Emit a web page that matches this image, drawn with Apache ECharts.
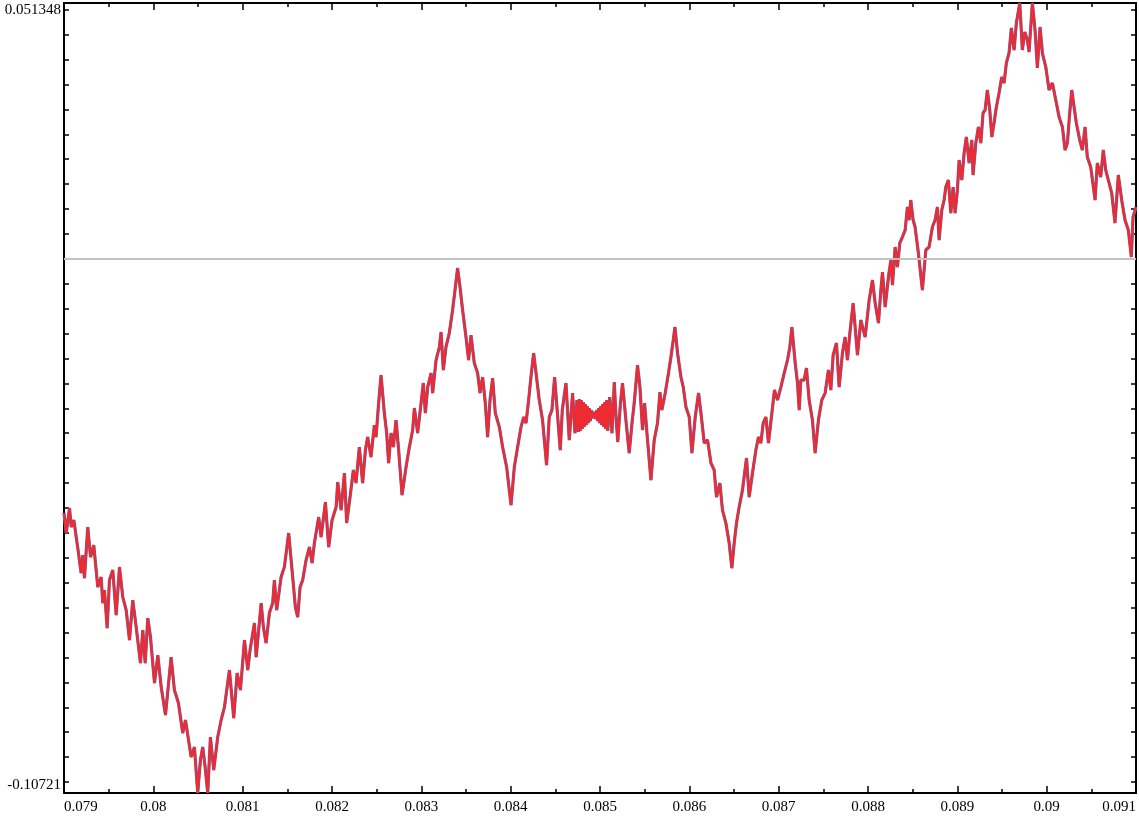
<!DOCTYPE html>
<html><head><meta charset="utf-8">
<script src="https://cdn.jsdelivr.net/npm/echarts@6/dist/echarts.min.js"></script>
<style>html,body{margin:0;padding:0;background:#fff}#chart{width:1139px;height:818px}</style>
</head><body><div id="chart"></div>
<script>
const xValues = [
0.079000,0.079025,0.079062,0.079081,0.079110,0.079162,0.079192,0.079210,0.079229,0.079266,
0.079297,0.079333,0.079378,0.079416,0.079434,0.079453,0.079483,0.079509,0.079546,0.079584,
0.079621,0.079658,0.079696,0.079733,0.079770,0.079808,0.079856,0.079882,0.079909,0.079938,
0.079968,0.080013,0.080050,0.080088,0.080136,0.080199,0.080236,0.080281,0.080329,0.080360,
0.080423,0.080460,0.080497,0.080527,0.080553,0.080580,0.080609,0.080639,0.080676,0.080721,
0.080759,0.080796,0.080852,0.080900,0.080938,0.080975,0.081020,0.081057,0.081083,0.081132,
0.081151,0.081207,0.081232,0.081262,0.081299,0.081336,0.081355,0.081381,0.081430,0.081467,
0.081515,0.081560,0.081590,0.081616,0.081643,0.081672,0.081710,0.081747,0.081777,0.081803,
0.081851,0.081878,0.081926,0.081963,0.082001,0.082046,0.082064,0.082102,0.082139,0.082164,
0.082202,0.082239,0.082269,0.082306,0.082343,0.082374,0.082399,0.082437,0.082474,0.082493,
0.082522,0.082549,0.082586,0.082612,0.082634,0.082661,0.082687,0.082717,0.082746,0.082784,
0.082829,0.082866,0.082903,0.082922,0.082959,0.082997,0.083022,0.083045,0.083071,0.083109,
0.083127,0.083165,0.083202,0.083221,0.083246,0.083276,0.083313,0.083350,0.083381,0.083406,
0.083433,0.083462,0.083500,0.083529,0.083556,0.083593,0.083630,0.083657,0.083686,0.083716,
0.083742,0.083769,0.083798,0.083828,0.083873,0.083910,0.083955,0.084004,0.084041,0.084078,
0.084116,0.084145,0.084172,0.084201,0.084227,0.084257,0.084284,0.084320,0.084357,0.084402,
0.084432,0.084462,0.084492,0.084518,0.084555,0.084578,0.084619,0.084656,0.084693,0.084720,
0.084742,
0.084757,0.084768,0.084779,0.084790,0.084801,0.084813,0.084824,0.084835,0.084846,0.084857,
0.084869,0.084880,0.084891,0.084902,0.084913,0.084928,0.084941,0.084952,0.084964,0.084975,
0.084986,0.084997,0.085008,0.085019,0.085031,0.085042,0.085053,0.085064,0.085075,0.085087,
0.085109,0.085134,0.085160,0.085176,0.085199,0.085227,0.085252,0.085290,0.085327,0.085358,
0.085383,0.085420,0.085447,0.085476,0.085499,0.085532,0.085570,0.085607,0.085644,0.085671,
0.085693,0.085730,0.085767,0.085794,0.085820,0.085839,0.085868,0.085906,0.085932,0.085962,
0.085999,0.086029,0.086066,0.086103,0.086130,0.086167,0.086204,0.086242,0.086278,0.086304,
0.086342,0.086371,0.086409,0.086446,0.086476,0.086502,0.086528,0.086558,0.086595,0.086640,
0.086670,0.086707,0.086745,0.086774,0.086801,0.086827,0.086857,0.086886,0.086924,0.086953,
0.086987,0.087025,0.087062,0.087099,0.087125,0.087148,0.087185,0.087211,0.087230,0.087248,
0.087285,0.087311,0.087341,0.087378,0.087408,0.087445,0.087483,0.087520,0.087557,0.087584,
0.087610,0.087647,0.087677,0.087714,0.087744,0.087770,0.087797,0.087834,0.087882,0.087920,
0.087968,0.088013,0.088050,0.088080,0.088117,0.088144,0.088162,0.088192,0.088229,0.088256,
0.088274,0.088304,0.088329,0.088356,0.088385,0.088416,0.088441,0.088460,0.088479,0.088505,
0.088527,0.088564,0.088609,0.088647,0.088684,0.088721,0.088751,0.088777,0.088796,0.088826,
0.088852,0.088871,0.088900,0.088927,0.088953,0.088975,0.089001,0.089020,0.089050,0.089076,
0.089101,0.089132,0.089162,0.089176,0.089207,0.089236,0.089263,0.089288,0.089311,0.089336,
0.089363,0.089386,0.089411,0.089437,0.089467,0.089497,0.089523,0.089549,0.089579,0.089605,
0.089635,0.089661,0.089699,0.089728,0.089755,0.089784,0.089803,0.089840,0.089870,0.089896,
0.089926,0.089952,0.089990,0.090027,0.090064,0.090102,0.090139,0.090176,0.090206,0.090232,
0.090258,0.090281,0.090307,0.090332,0.090370,0.090399,0.090430,0.090455,0.090493,0.090542,
0.090567,0.090605,0.090634,0.090661,0.090690,0.090728,0.090765,0.090802,0.090840,0.090877,
0.090914,0.090948,0.090967,0.091000
];
const yValues = [
-0.05102,-0.05504,-0.05002,-0.05383,-0.05243,-0.05905,-0.06307,-0.05945,-0.06407,-0.05383,
-0.05986,-0.05745,-0.06588,-0.06387,-0.06909,-0.06648,-0.07411,-0.06447,-0.06246,-0.07150,
-0.06186,-0.06788,-0.07049,-0.07651,-0.06849,-0.07391,-0.08113,-0.07451,-0.08113,-0.07210,
-0.07591,-0.08515,-0.07953,-0.08595,-0.09157,-0.07993,-0.08655,-0.08916,-0.09518,-0.09257,
-0.10000,-0.09799,-0.10720,-0.10060,-0.09799,-0.10201,-0.10720,-0.09598,-0.10261,-0.09598,
-0.09257,-0.08996,-0.08254,-0.09217,-0.08314,-0.08655,-0.07651,-0.08254,-0.07852,-0.07310,
-0.07993,-0.06909,-0.07391,-0.07712,-0.07110,-0.06909,-0.06447,-0.07049,-0.06387,-0.06186,
-0.05504,-0.06387,-0.06989,-0.07190,-0.06588,-0.06447,-0.06046,-0.05785,-0.06106,-0.05704,
-0.05183,-0.05584,-0.04882,-0.05785,-0.05243,-0.04982,-0.04480,-0.05042,-0.04299,-0.05303,
-0.04781,-0.04239,-0.04500,-0.03778,-0.04500,-0.03838,-0.03577,-0.03978,-0.03336,-0.03577,
-0.02894,-0.02332,-0.03095,-0.03497,-0.04099,-0.03497,-0.03778,-0.03236,-0.03838,-0.04741,
-0.04179,-0.03778,-0.03436,-0.02995,-0.03497,-0.02894,-0.02493,-0.03095,-0.02573,-0.02292,
-0.02694,-0.02031,-0.01770,-0.01469,-0.02232,-0.01770,-0.01489,-0.01028,-0.00566,-0.00185,
-0.00566,-0.01028,-0.01570,-0.02031,-0.01530,-0.02092,-0.02292,-0.02694,-0.02373,-0.02894,
-0.03577,-0.02834,-0.02393,-0.03095,-0.03376,-0.03778,-0.04179,-0.04942,-0.04179,-0.03778,
-0.03376,-0.03175,-0.03296,-0.02834,-0.02373,-0.01891,-0.02292,-0.02834,-0.03236,-0.04139,
-0.03175,-0.03035,-0.02373,-0.02975,-0.03838,-0.03035,-0.02493,-0.03637,-0.02694,-0.03497,
-0.02834,
-0.03476,-0.02814,-0.03456,-0.02834,-0.03416,-0.02874,-0.03376,-0.02914,-0.03336,-0.02955,
-0.03296,-0.02995,-0.03256,-0.03035,-0.03196,-0.03135,-0.03075,-0.03216,-0.03035,-0.03256,
-0.02995,-0.03296,-0.02955,-0.03336,-0.02914,-0.03376,-0.02874,-0.03416,-0.02834,-0.03456,
-0.02774,-0.03497,-0.02473,-0.03075,-0.03677,-0.02935,-0.02493,-0.03236,-0.03898,-0.03296,
-0.02894,-0.02132,-0.02573,-0.03436,-0.02894,-0.03637,-0.04440,-0.03637,-0.03296,-0.02674,
-0.03035,-0.02694,-0.02292,-0.01971,-0.01630,-0.01369,-0.01891,-0.02373,-0.02573,-0.02975,
-0.03175,-0.03898,-0.03175,-0.02694,-0.03095,-0.03697,-0.03637,-0.04099,-0.04239,-0.04781,
-0.04500,-0.05042,-0.05303,-0.05704,-0.06206,-0.05704,-0.05303,-0.04982,-0.04641,-0.03998,
-0.04781,-0.04299,-0.03838,-0.03577,-0.03697,-0.03296,-0.03175,-0.03697,-0.03095,-0.02633,
-0.02834,-0.02573,-0.02292,-0.02031,-0.01770,-0.01369,-0.02092,-0.02493,-0.03035,-0.02433,
-0.02433,-0.02192,-0.02834,-0.03236,-0.03898,-0.03236,-0.02834,-0.02694,-0.02232,-0.02633,
-0.01931,-0.01690,-0.02573,-0.01891,-0.01570,-0.02031,-0.01489,-0.00887,-0.01931,-0.01228,
-0.01570,-0.00827,-0.00426,-0.00887,-0.01289,-0.00626,-0.00265,-0.00967,-0.00365,-0.00024,
-0.00526,0.00237,-0.00165,0.00317,0.00438,0.00578,0.01040,0.00779,0.01180,0.00779,
0.00638,0.00116,-0.00626,0.00177,0.00237,0.00638,0.00779,0.01040,0.00377,0.00980,
0.01180,0.01441,0.01582,0.00919,0.01441,0.00919,0.01381,0.01983,0.01582,0.02124,
0.02445,0.01923,0.02385,0.01682,0.02324,0.02646,0.02324,0.02927,0.02987,0.03388,
0.02987,0.02445,0.02726,0.03047,0.03328,0.03649,0.03529,0.03930,0.04131,0.04633,
0.04191,0.04733,0.05135,0.04191,0.04552,0.04392,0.04151,0.05135,0.04592,0.03830,
0.04653,0.04131,0.03850,0.03388,0.03529,0.03187,0.02846,0.02646,0.02184,0.02324,
0.02927,0.03388,0.03047,0.02726,0.02385,0.02184,0.02646,0.02043,0.01843,0.01180,
0.01923,0.01642,0.02184,0.01782,0.01582,0.01321,0.00719,0.01682,0.01180,0.00779,
0.00578,0.00036,0.00839,0.01040
];
const xMin = 0.079, xMax = 0.091, xStep = 0.001;
const yMin = -0.10721, yMax = 0.051348;
const yLabelValues = [-0.10721, 0.051348];
const yTickValues = [-0.105,-0.1,-0.095,-0.09,-0.085,-0.08,-0.075,-0.07,-0.065,-0.06,-0.055,-0.05,
  -0.045,-0.04,-0.035,-0.03,-0.025,-0.02,-0.015,-0.01,-0.005,0,0.005,0.01,0.015,0.02,0.025,0.03,
  0.035,0.04,0.045,0.05];
const zeroLevel = 0;

const pts = xValues.map((x, i) => [x, yValues[i]]);
const font = {fontFamily: 'Liberation Serif', fontSize: 15, color: '#000'};
const axisLine = {show: true, onZero: false, lineStyle: {color: '#000', width: 2}};

const chart = echarts.init(document.getElementById('chart'), null, {renderer: 'canvas'});
chart.setOption({
  animation: false,
  backgroundColor: '#fff',
  grid: {left: 64, right: 2, top: 3, bottom: 25, containLabel: false},
  xAxis: [{
    type: 'value', min: xMin, max: xMax, interval: xStep, position: 'bottom',
    axisLine: axisLine,
    axisTick: {show: true, inside: true, length: 7, lineStyle: {color: '#000', width: 1.5}},
    minorTick: {show: true, splitNumber: 2, length: 4, lineStyle: {color: '#000', width: 1.5}},
    splitLine: {show: false},
    axisLabel: Object.assign({margin: 7, alignMinLabel: 'left', alignMaxLabel: 'right',
      formatter: v => String(parseFloat(v.toFixed(4)))}, font)
  }, {
    type: 'value', min: xMin, max: xMax, interval: xStep, position: 'top',
    axisLine: axisLine,
    axisTick: {show: true, inside: true, length: 7, lineStyle: {color: '#000', width: 1.5}},
    minorTick: {show: true, splitNumber: 2, length: 4, lineStyle: {color: '#000', width: 1.5}},
    splitLine: {show: false}, axisLabel: {show: false}
  }],
  yAxis: [{
    type: 'value', min: yMin, max: yMax, position: 'left',
    axisLine: axisLine,
    axisTick: {show: true, inside: true, length: 5, customValues: yTickValues, lineStyle: {color: '#000', width: 1.5}},
    splitLine: {show: false},
    axisLabel: Object.assign({margin: 3, customValues: yLabelValues,
      verticalAlignMinLabel: 'bottom', verticalAlignMaxLabel: 'top',
      formatter: v => String(v)}, font)
  }, {
    type: 'value', min: yMin, max: yMax, position: 'right',
    axisLine: axisLine,
    axisTick: {show: true, inside: true, length: 5, customValues: yTickValues, lineStyle: {color: '#000', width: 1.5}},
    splitLine: {show: false}, axisLabel: {show: false}
  }],
  series: [{
    type: 'line', data: [], z: 1, silent: true,
    markLine: {silent: true, symbol: ['none', 'none'], label: {show: false},
      lineStyle: {color: '#c2c2c2', width: 2, type: 'solid'},
      data: [{yAxis: zeroLevel}]}
  }, {
    type: 'line', data: pts, z: 2, showSymbol: false, silent: true,
    lineStyle: {color: '#5a6cb8', width: 3.2}
  }, {
    type: 'line', data: pts, z: 3, showSymbol: false, silent: true,
    lineStyle: {color: '#ee2b31', width: 2.4}
  }]
});
</script></body></html>
